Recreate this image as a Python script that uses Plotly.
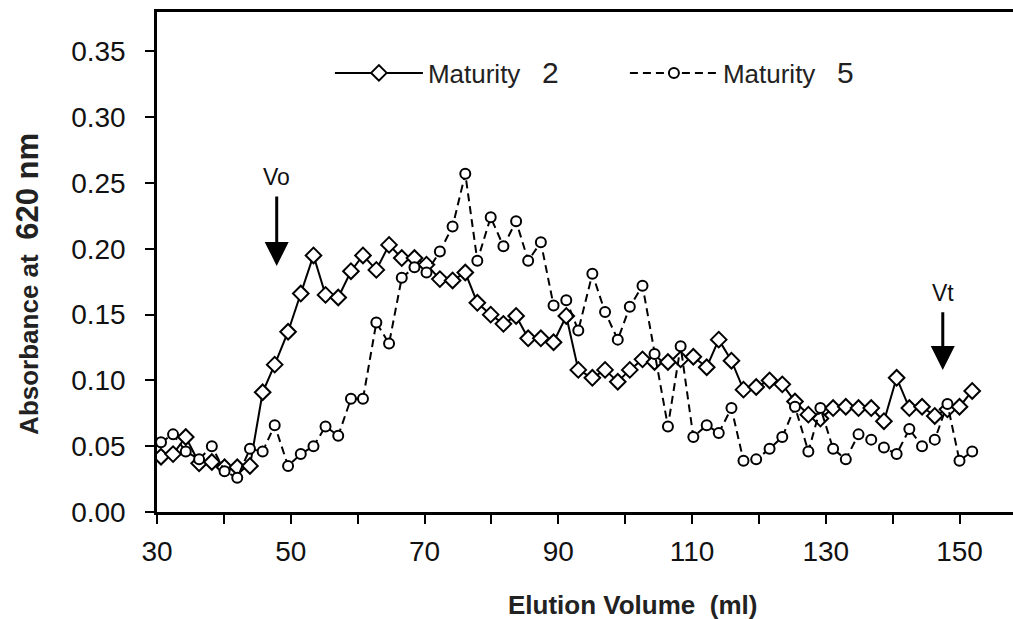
import plotly.graph_objects as go

elution_ml = [30.6, 32.4, 34.3, 36.3, 38.2, 40.1, 42.0, 43.9, 45.8, 47.6, 49.6, 51.5, 53.4, 55.2, 57.1, 59.0, 60.8,
              62.8, 64.7, 66.6, 68.5, 70.3, 72.3, 74.2, 76.1, 77.9, 79.9, 81.8, 83.7, 85.5, 87.4, 89.3, 91.2, 93.0,
              95.1, 97.0, 98.9, 100.7, 102.6, 104.4, 106.4, 108.3, 110.2, 112.2, 114.0, 115.9, 117.7, 119.6, 121.6, 123.5,
              125.4, 127.4, 129.2, 131.1, 133.0, 134.9, 136.8, 138.7, 140.6, 142.5, 144.4, 146.3, 148.2, 150.0, 151.9]

maturity2 = [0.042, 0.044, 0.057, 0.037, 0.038, 0.034, 0.034, 0.035, 0.091, 0.112, 0.137, 0.166, 0.195, 0.165, 0.163, 0.183, 0.195,
             0.184, 0.203, 0.193, 0.193, 0.188, 0.177, 0.176, 0.182, 0.159, 0.150, 0.143, 0.149, 0.132, 0.132, 0.129, 0.149, 0.108,
             0.102, 0.108, 0.099, 0.108, 0.116, 0.114, 0.114, 0.116, 0.118, 0.110, 0.131, 0.115, 0.093, 0.095, 0.100, 0.097,
             0.084, 0.074, 0.071, 0.079, 0.080, 0.079, 0.079, 0.069, 0.102, 0.079, 0.080, 0.073, 0.078, 0.080, 0.092]

maturity5 = [0.053, 0.059, 0.046, 0.040, 0.050, 0.031, 0.026, 0.048, 0.046, 0.066, 0.035, 0.044, 0.050, 0.065, 0.058, 0.086, 0.086,
             0.144, 0.128, 0.178, 0.186, 0.182, 0.198, 0.217, 0.257, 0.191, 0.224, 0.202, 0.221, 0.191, 0.205, 0.157, 0.161, 0.138,
             0.181, 0.152, 0.131, 0.156, 0.172, 0.120, 0.065, 0.126, 0.057, 0.066, 0.060, 0.079, 0.039, 0.040, 0.048, 0.057,
             0.080, 0.046, 0.079, 0.048, 0.040, 0.059, 0.055, 0.049, 0.044, 0.063, 0.050, 0.055, 0.082, 0.039, 0.046]

series_names = ['Maturity&nbsp;&nbsp;&nbsp;<span style="font-size:30px">2</span>',
                'Maturity&nbsp;&nbsp;&nbsp;<span style="font-size:30px">5</span>']
x_tick_vals = [30, 50, 70, 90, 110, 130, 150]
y_tick_vals = [0.00, 0.05, 0.10, 0.15, 0.20, 0.25, 0.30, 0.35]

markers_text = [("Vo", 47.9, 0.241, 0.187), ("Vt", 147.5, 0.153, 0.108)]

FONT = "Liberation Sans, Arial, sans-serif"

fig = go.Figure()
fig.add_trace(go.Scatter(
    x=elution_ml, y=maturity2, name=series_names[0], mode="lines+markers",
    line=dict(color="black", width=2, dash="solid"),
    marker=dict(symbol="diamond", size=12, color="white", line=dict(color="black", width=2)),
))
fig.add_trace(go.Scatter(
    x=elution_ml, y=maturity5, name=series_names[1], mode="lines+markers",
    line=dict(color="black", width=2, dash="8px,5px"),
    marker=dict(symbol="circle", size=10, color="white", line=dict(color="black", width=2)),
))

for label, xv, y_start, y_tip in markers_text:
    fig.add_annotation(x=xv, y=y_tip, ax=xv, ay=y_start, xref="x", yref="y", axref="x", ayref="y",
                       showarrow=True, arrowhead=2, arrowsize=1.6, arrowwidth=3, arrowcolor="black", text="")
    fig.add_annotation(x=xv, y=y_start, xref="x", yref="y", text=label, showarrow=False,
                       yanchor="bottom", yshift=3, font=dict(family=FONT, size=23, color="#111"))

# Axis titles
fig.add_annotation(xref="paper", yref="paper", x=0.556, y=-0.186, showarrow=False,
                   text="<b>Elution Volume  (ml)</b>", xanchor="center", yanchor="middle",
                   font=dict(family=FONT, size=26, color="#222"))
fig.add_annotation(xref="paper", yref="paper", x=-0.152, y=0.456, showarrow=False, textangle=-90,
                   text='<b>Absorbance at  <span style="font-size:31px">620 nm</span></b>',
                   xanchor="center", yanchor="middle",
                   font=dict(family=FONT, size=26, color="#222"))

fig.update_layout(
    width=1013, height=619,
    margin=dict(l=157, r=0, t=12, b=107, autoexpand=False),
    paper_bgcolor="white", plot_bgcolor="white",
    font=dict(family=FONT, color="#111"),
    showlegend=True,
    legend=dict(orientation="h", x=0.202, y=0.878, xanchor="left", yanchor="middle",
                font=dict(family=FONT, size=26, color="#222"), bgcolor="rgba(0,0,0,0)",
                entrywidth=192, entrywidthmode="pixels", itemwidth=88),
    xaxis=dict(range=[30, 158], tickvals=x_tick_vals, ticks="outside", ticklen=9, tickwidth=2,
               tickcolor="black", showline=True, linecolor="black", linewidth=2.5, mirror=True,
               showgrid=False, zeroline=False, tickfont=dict(family=FONT, size=28, color="#111"),
               ticklabelstandoff=4,
               minor=dict(dtick=10, tick0=30, ticks="outside", ticklen=9, tickwidth=2, tickcolor="black", showgrid=False)),
    yaxis=dict(range=[0, 0.38], tickvals=y_tick_vals, tickformat=".2f", ticks="outside", ticklen=9,
               tickwidth=2, tickcolor="black", showline=True, linecolor="black", linewidth=2.5,
               showgrid=False, zeroline=False, tickfont=dict(family=FONT, size=28, color="#111"),
               ticklabelstandoff=14),
)

fig.write_html("out.html", config={"displayModeBar": False},
               post_script="document.body.style.margin='0';document.body.style.overflow='hidden';")
